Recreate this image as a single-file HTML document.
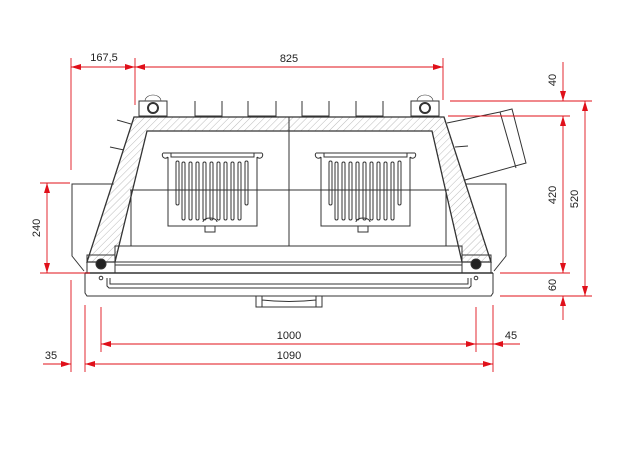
<!DOCTYPE html>
<html><head><style>html,body{margin:0;padding:0;background:#fff}svg{display:block}</style></head><body>
<svg width="624" height="460" viewBox="0 0 624 460" xmlns="http://www.w3.org/2000/svg" font-family="Liberation Sans, sans-serif">
<defs>
<pattern id="h" width="5" height="5" patternUnits="userSpaceOnUse" patternTransform="rotate(45)"><line x1="0" y1="0" x2="0" y2="5" stroke="#aaa" stroke-width="0.8"/></pattern>
<marker id="a" viewBox="0 0 10 6" refX="10" refY="3" markerWidth="10" markerHeight="6" orient="auto-start-reverse" markerUnits="userSpaceOnUse"><path d="M0,0L10,3L0,6z" fill="#e0101a"/></marker>
</defs>
<g fill="none" stroke="#333" stroke-width="1">
<!-- side boxes -->
<path d="M114,184 L72,184 L72,256 L84,271"/>
<path d="M466,184 L506,184 L506,256 L494,271"/>
<!-- flue -->
<path d="M447,123 L500,112 L512,109 L526,163 L465,180"/>
<line x1="500" y1="112" x2="516" y2="168"/>
<line x1="455" y1="147" x2="468" y2="146"/>
<!-- hatch band -->
<path d="M134,117 L444,117 L491,262 L462,262 L432,131 L147,131 L115,262 L87,262 Z" fill="url(#h)" stroke="#333" stroke-width="1.3"/>
<line x1="289" y1="117" x2="289" y2="246"/>
<line x1="130" y1="190" x2="449" y2="190"/>
<line x1="131" y1="190" x2="131" y2="246"/>
<line x1="446" y1="190" x2="446" y2="246"/>
<!-- fins on left -->
<line x1="117" y1="120" x2="131" y2="124"/>
<line x1="110" y1="147" x2="124" y2="150"/>
<!-- tabs -->
<path d="M195,101V116H222V101M248,101V116H276V101M302,101V116H329V101M356,101V116H383V101"/>
<rect x="139" y="101" width="28" height="15"/><rect x="411" y="101" width="28" height="15"/>
<circle cx="153" cy="108" r="5" stroke-width="2"/><circle cx="425" cy="108" r="5" stroke-width="2"/>
<path d="M145,101 A8,6 0 0 1 161,101M417,101 A8,6 0 0 1 433,101" stroke-width="0.6"/>
<!-- grates -->
<g id="g">
<path d="M163,153 L262,153 M168,157 L168,226 L257,226 L257,157 M163,153 A3,3 0 0 0 168,157 M262,153 A3,3 0 0 1 257,157 M171,153 V157 H254 V153"/>
<rect x="176" y="161" width="3" height="44" rx="1.5"/>
<rect x="182" y="162" width="3" height="58" rx="1.5"/><rect x="189" y="162" width="3" height="58" rx="1.5"/><rect x="196" y="162" width="3" height="58" rx="1.5"/><rect x="203" y="162" width="3" height="58" rx="1.5"/><rect x="210" y="162" width="3" height="58" rx="1.5"/><rect x="217" y="162" width="3" height="58" rx="1.5"/><rect x="224" y="162" width="3" height="58" rx="1.5"/><rect x="231" y="162" width="3" height="58" rx="1.5"/><rect x="238" y="162" width="3" height="58" rx="1.5"/>
<rect x="245" y="161" width="3" height="44" rx="1.5"/>
<path d="M205,226 V232 H215 V226 M203,222 A7,4 0 0 1 217,222"/>
</g>
<use href="#g" x="153"/>
<!-- front bar -->
<rect x="115" y="246" width="347" height="19"/>
<line x1="115" y1="262" x2="462" y2="262"/>
<rect x="87" y="255" width="28" height="18"/><rect x="462" y="255" width="29" height="18"/>
<circle cx="101" cy="264" r="5" fill="#222"/><circle cx="476" cy="264" r="5" fill="#222"/>
<line x1="85" y1="273" x2="493" y2="273" stroke-width="1.4"/>
<path d="M85,273 V293 L87,296 H491 L493,293 V273"/>
<path d="M107,278 V286 L109,288 H469 L471,286 V278"/>
<path d="M110,278 V284 H468 V278"/>
<circle cx="101" cy="278" r="1.8"/><circle cx="476" cy="278" r="1.8"/>
<!-- handle -->
<path d="M256,296 V307 H322 V296 M262,296 V307 M316,296 V307 M262,300 Q289,303 316,300"/>
</g>
<!-- dimensions -->
<g stroke="#e0101a" stroke-width="0.9" fill="none">
<line x1="71" y1="58" x2="71" y2="170"/><line x1="135" y1="58" x2="135" y2="105"/><line x1="443" y1="58" x2="443" y2="100"/>
<line x1="71" y1="67" x2="135" y2="67" marker-start="url(#a)" marker-end="url(#a)"/>
<line x1="135" y1="67" x2="443" y2="67" marker-start="url(#a)" marker-end="url(#a)"/>
<line x1="450" y1="101" x2="592" y2="101"/><line x1="448" y1="116" x2="570" y2="116"/>
<line x1="500" y1="273" x2="570" y2="273"/><line x1="500" y1="296" x2="592" y2="296"/>
<line x1="563" y1="62" x2="563" y2="101" marker-end="url(#a)"/>
<line x1="563" y1="116" x2="563" y2="273" marker-start="url(#a)" marker-end="url(#a)"/>
<line x1="563" y1="296" x2="563" y2="320" marker-start="url(#a)"/>
<line x1="585" y1="101" x2="585" y2="296" marker-start="url(#a)" marker-end="url(#a)"/>
<line x1="40" y1="183" x2="70" y2="183"/><line x1="40" y1="273" x2="90" y2="273"/>
<line x1="47" y1="183" x2="47" y2="273" marker-start="url(#a)" marker-end="url(#a)"/>
<line x1="71" y1="280" x2="71" y2="372"/><line x1="85" y1="305" x2="85" y2="372"/><line x1="101" y1="307" x2="101" y2="352"/>
<line x1="476" y1="307" x2="476" y2="352"/><line x1="493" y1="305" x2="493" y2="372"/>
<line x1="101" y1="344" x2="476" y2="344" marker-start="url(#a)" marker-end="url(#a)"/>
<line x1="476" y1="344" x2="520" y2="344"/><line x1="520" y1="344" x2="493" y2="344" marker-end="url(#a)"/>
<line x1="85" y1="364" x2="493" y2="364" marker-start="url(#a)" marker-end="url(#a)"/>
<line x1="43" y1="364" x2="71" y2="364" marker-end="url(#a)"/>
</g>
<g font-size="11" fill="#222" text-anchor="middle">
<text x="104" y="61">167,5</text><text x="289" y="62">825</text>
<text x="289" y="339">1000</text><text x="289" y="359">1090</text>
<text x="51" y="359">35</text><text x="511" y="339">45</text>
<text transform="translate(40,228) rotate(-90)">240</text>
<text transform="translate(556,80) rotate(-90)">40</text>
<text transform="translate(556,195) rotate(-90)">420</text>
<text transform="translate(556,285) rotate(-90)">60</text>
<text transform="translate(578,199) rotate(-90)">520</text>
</g>
</svg>
</body></html>
